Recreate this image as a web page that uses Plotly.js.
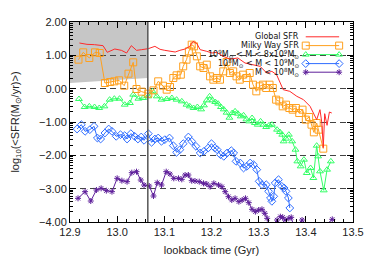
<!DOCTYPE html>
<html>
<head>
<meta charset="utf-8">
<script src="https://cdn.plot.ly/plotly-3.0.1.min.js"></script>
<style>html,body{margin:0;padding:0;background:#fff;}#chart{width:374px;height:267px;}</style>
</head>
<body>
<div id="chart"></div>
<script>
// Global SFR (red line)
var xGlobal = [12.920,12.936,12.952,12.970,12.979,12.995,13.009,13.020,13.030,13.041,13.052,13.066,13.080,13.091,13.101,13.112,13.123,13.133,13.144,13.154,13.161,13.169,13.176,13.190,13.201,13.211,13.225,13.239,13.256,13.271,13.285,13.303,13.317,13.328,13.338,13.345,13.352,13.366,13.381,13.395,13.409,13.416,13.423,13.430,13.434,13.437,13.440,13.445,13.450,13.455];
var yGlobal = [1.37,1.33,1.32,1.29,1.09,1.19,1.15,1.07,1.29,1.15,1.17,1.20,1.27,1.18,1.15,1.12,1.10,1.15,1.19,1.27,1.42,1.35,1.17,1.12,1.07,1.09,0.97,0.89,0.92,0.77,0.72,0.67,0.47,0.52,0.42,0.22,-0.03,-0.08,-0.23,-0.33,-0.53,-0.73,-0.93,-0.63,-1.03,-1.77,-0.75,-1.10,-0.70,-0.73];

// Milky Way SFR (orange squares)
var xMW = [12.918,12.928,12.941,12.953,12.963,12.974,12.985,12.994,13.004,13.015,13.024,13.034,13.041,13.052,13.066,13.077,13.087,13.097,13.105,13.112,13.119,13.126,13.135,13.140,13.147,13.152,13.158,13.163,13.169,13.176,13.183,13.190,13.197,13.204,13.211,13.218,13.225,13.232,13.239,13.246,13.253,13.260,13.267,13.274,13.281,13.288,13.295,13.302,13.309,13.316,13.323,13.330,13.337,13.344,13.351,13.358,13.365,13.372,13.379,13.386,13.393,13.400,13.407,13.412,13.417,13.423,13.427,13.437];
var yMW = [0.87,1.09,0.92,1.09,1.07,0.17,0.20,0.22,0.25,0.09,0.45,0.79,-0.01,-0.09,-0.15,-0.05,0.22,0.09,-0.03,0.05,0.32,0.40,0.42,0.67,0.87,1.12,1.32,1.27,0.97,0.67,0.62,0.72,0.37,0.27,0.32,0.27,0.52,0.80,0.47,0.52,0.37,0.27,0.42,0.32,0.47,0.12,-0.08,0.07,0.12,0.02,0.12,0.02,-0.33,-0.38,-0.53,-0.48,-0.58,-0.63,-0.58,-0.73,-0.63,-0.93,-0.85,-1.08,-1.31,-1.03,-1.23,-1.80];

// 10^9 < M < 8x10^9 (green triangles)
var xHigh = [12.919,12.931,12.941,12.952,12.962,12.973,12.984,12.994,13.005,13.016,13.027,13.034,13.045,13.055,13.066,13.075,13.084,13.094,13.105,13.116,13.126,13.137,13.147,13.154,13.162,13.170,13.178,13.184,13.190,13.196,13.202,13.208,13.214,13.220,13.226,13.232,13.238,13.244,13.250,13.256,13.262,13.268,13.274,13.280,13.286,13.292,13.298,13.304,13.310,13.316,13.322,13.328,13.339,13.345,13.350,13.353,13.358,13.364,13.371,13.378,13.382,13.389,13.396,13.402,13.410,13.416,13.423,13.426,13.430,13.438,13.445,13.453];
var yHigh = [-0.31,-0.55,-0.53,-0.55,-0.58,-0.53,-0.33,-0.30,-0.30,-0.48,-0.43,-0.18,-0.30,-0.28,-0.23,-0.08,-0.23,-0.33,-0.31,-0.28,-0.33,-0.38,-0.48,-0.53,-0.58,-0.55,-0.62,-0.50,-0.35,-0.23,-0.35,-0.40,-0.45,-0.55,-0.62,-0.72,-0.87,-0.73,-0.68,-0.75,-0.83,-0.80,-0.92,-0.98,-0.88,-1.03,-1.08,-0.98,-1.08,-1.15,-1.10,-1.08,-1.23,-1.30,-1.38,-1.58,-1.50,-1.38,-1.58,-1.83,-2.18,-2.33,-2.13,-2.53,-2.38,-2.68,-1.71,-2.03,-2.48,-3.05,-2.43,-2.18];

// 10^8 < M < 10^9 (blue diamonds)
var xMid = [12.915,12.924,12.932,12.942,12.951,12.958,12.965,12.974,12.982,12.989,12.998,13.007,13.016,13.021,13.029,13.037,13.044,13.051,13.057,13.066,13.073,13.080,13.087,13.094,13.101,13.111,13.119,13.126,13.133,13.140,13.151,13.158,13.167,13.176,13.184,13.193,13.200,13.207,13.212,13.219,13.226,13.233,13.242,13.247,13.252,13.261,13.268,13.275,13.282,13.289,13.296,13.301,13.307,13.316,13.321,13.325,13.328,13.332,13.335,13.342,13.349,13.354,13.358,13.363,13.366];
var yMid = [-1.21,-1.08,-1.28,-1.23,-1.13,-1.48,-1.51,-1.33,-1.21,-1.28,-1.43,-1.38,-1.41,-1.51,-1.35,-1.43,-1.51,-1.45,-1.55,-1.35,-1.61,-1.51,-1.48,-1.58,-1.53,-1.48,-1.71,-1.91,-1.83,-1.65,-1.45,-1.58,-1.73,-1.93,-1.88,-1.78,-1.65,-1.78,-1.83,-1.98,-2.03,-1.93,-1.86,-1.93,-2.18,-2.23,-2.38,-2.33,-2.23,-2.28,-2.43,-2.78,-2.88,-2.88,-3.08,-3.28,-3.38,-3.23,-2.83,-2.73,-2.93,-2.98,-3.08,-3.28,-3.58];

// M < 10^8 (purple asterisks)
var xLow = [12.917,12.932,12.944,12.956,12.966,12.977,12.989,13.000,13.010,13.021,13.031,13.041,13.050,13.057,13.068,13.077,13.085,13.094,13.104,13.112,13.120,13.130,13.137,13.144,13.151,13.158,13.165,13.174,13.183,13.190,13.197,13.205,13.215,13.222,13.229,13.236,13.243,13.250,13.258,13.265,13.272,13.279,13.286,13.293,13.300,13.307,13.313,13.318,13.328,13.339,13.346,13.351,13.356,13.364,13.369,13.380,13.392,13.420,13.456];
var yLow = [-3.29,-3.09,-3.37,-3.04,-2.99,-3.06,-3.09,-2.69,-2.76,-2.79,-2.52,-2.49,-2.74,-2.89,-2.92,-3.22,-2.82,-2.89,-2.49,-2.56,-2.69,-2.69,-2.72,-2.59,-2.59,-2.76,-2.77,-2.79,-2.84,-2.86,-2.94,-2.84,-2.89,-2.94,-3.09,-3.24,-3.34,-3.29,-3.39,-3.34,-3.29,-3.42,-3.62,-3.69,-3.64,-3.62,-3.74,-3.89,-4.4,-3.94,-3.84,-3.86,-3.94,-3.89,-3.86,-4.4,-3.94,-4.4,-3.92];

var seriesNames = ['Global SFR','Milky Way SFR',
  '10<sup>9</sup>M<sub>⊙</sub> &lt; M &lt; 8x10<sup>9</sup>M<sub>⊙</sub>',
  '10<sup>8</sup>M<sub>⊙</sub> &lt; M &lt; 10<sup>9</sup>M<sub>⊙</sub>',
  'M &lt; 10<sup>8</sup>M<sub>⊙</sub>'];
var xTicks = [12.9,13.0,13.1,13.2,13.3,13.4,13.5];
var yTicks = [-4,-3,-2,-1,0,1,2];
var cutoffAge = 13.065;

var FONT = 'Liberation Sans, Arial, sans-serif';
var LFONT = 'DejaVu Sans, Liberation Sans, sans-serif';
var colRed = '#ff2a2a', colOrange = '#ffa01e', colGreen = '#33ff66', colBlue = '#2f6dff', colPurple = '#5e1f9a';

var styles = [
  {mode:'lines', line:{color:colRed,width:1}},
  {mode:'lines+markers', line:{color:colOrange,width:1}, marker:{symbol:'square-open',size:7,color:colOrange,line:{width:1}}},
  {mode:'lines+markers', line:{color:colGreen,width:1}, marker:{symbol:'triangle-up-open',size:6,color:colGreen,line:{width:1}}},
  {mode:'lines+markers', line:{color:colBlue,width:1}, marker:{symbol:'diamond-open',size:6,color:colBlue,line:{width:1}}},
  {mode:'lines+markers', line:{color:colPurple,width:1}, marker:{symbol:'asterisk-open',size:5,color:colPurple,line:{width:1,color:colPurple}}}
];
var xs = [xGlobal,xMW,xHigh,xMid,xLow];
var ys = [yGlobal,yMW,yHigh,yMid,yLow];

var traces = [];
var order = [4,3,2,1,0];
order.forEach(function(i){
  var t = Object.assign({type:'scatter', x:xs[i], y:ys[i], name:seriesNames[i], showlegend:false, cliponaxis:true}, styles[i]);
  traces.push(t);
});

// custom legend (text right-aligned, samples to the right)
var legRows = [0.926,0.882,0.837,0.792,0.749];
var annotations = [];
for (var i=0;i<5;i++){
  annotations.push({xref:'paper',yref:'paper',x:0.818,y:legRows[i],xanchor:'right',yanchor:'middle',
    text:seriesNames[i],showarrow:false,font:{family:LFONT,size:8,color:'#111'}});
  traces.push(Object.assign({type:'scatter',x:[0.833,0.951],y:[legRows[i],legRows[i]],xaxis:'x2',yaxis:'y2',showlegend:false,hoverinfo:'skip',cliponaxis:false}, styles[i]));
}

// minor log-style ticks on y
var yMinor = [];
for (var k=-4;k<2;k++){ for (var m=2;m<10;m++){ yMinor.push(k+Math.log10(m)); } }

var layout = {
  width:374, height:267,
  margin:{l:70,r:21,t:22,b:45},
  paper_bgcolor:'#fff', plot_bgcolor:'rgba(0,0,0,0)',
  font:{family:FONT,size:11,color:'#222'},
  showlegend:false,
  xaxis:{range:[12.9,13.5], tickvals:xTicks, tickformat:'.1f', ticks:'inside', ticklen:6, tickcolor:'#000',
    showline:true, linecolor:'#000', linewidth:1, mirror:'allticks', showgrid:false, zeroline:false,
    minor:{dtick:0.02, tick0:12.9, ticks:'inside', ticklen:3, tickcolor:'#000', showgrid:false},
    tickfont:{family:FONT,size:11,color:'#222'},
    title:{text:'lookback time (Gyr)', font:{family:FONT,size:11,color:'#222'}, standoff:9}},
  yaxis:{range:[-4,2], tickvals:yTicks, tickformat:'.2f', ticks:'inside', ticklen:6, tickcolor:'#000',
    showline:true, linecolor:'#000', linewidth:1, mirror:'allticks', zeroline:false,
    showgrid:true, gridcolor:'#444', gridwidth:1, griddash:'6px,4px',
    minor:{tickvals:yMinor, ticks:'inside', ticklen:3, tickcolor:'#000', showgrid:false},
    tickfont:{family:FONT,size:11,color:'#222'},
    title:{text:'log<sub>10</sub>(&lt;SFR(M<sub>⊙</sub>/yr)&gt;)', font:{family:FONT,size:11,color:'#222'}, standoff:17}},
  xaxis2:{overlaying:'x', anchor:'y2', range:[0,1], visible:false, fixedrange:true},
  yaxis2:{overlaying:'y', anchor:'x2', range:[0,1], visible:false, fixedrange:true},
  shapes:[
    {type:'path', xref:'x', yref:'y', path:'M 12.9,2 L '+cutoffAge+',2 L '+cutoffAge+',0.32 L 12.9,0.17 Z',
      fillcolor:'#c6c6c6', line:{width:0}, layer:'below'},
    {type:'line', xref:'x', yref:'paper', x0:cutoffAge, x1:cutoffAge, y0:0, y1:1,
      line:{color:'#555',width:1.5}, layer:'above'}
  ],
  annotations:annotations
};

Plotly.newPlot('chart', traces, layout, {staticPlot:true, displayModeBar:false});
</script>
</body>
</html>
